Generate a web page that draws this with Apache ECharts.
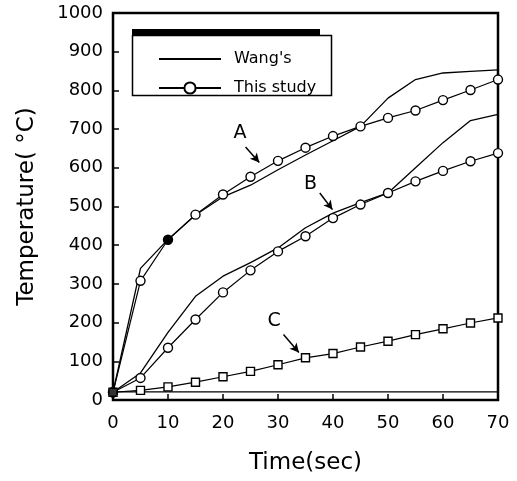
<!DOCTYPE html>
<html>
<head>
<meta charset="utf-8">
<script src="https://cdn.jsdelivr.net/npm/echarts@6/dist/echarts.min.js"></script>
<style>
  html, body { margin: 0; padding: 0; background: #fff; }
  #chart { width: 517px; height: 481px; }
</style>
</head>
<body>
<div id="chart"></div>
<script>
// time axis (sec)
const times = [0, 5, 10, 15, 20, 25, 30, 35, 40, 45, 50, 55, 60, 65, 70];

// Wang's results (plain lines)
const wangA = [20, 340, 415, 478, 525, 555, 595, 633, 670, 707, 780, 828, 845, 849, 853];
const wangB = [20, 70, 175, 268, 320, 355, 393, 445, 483, 510, 535, 600, 665, 722, 738];
const wangC = [21, 21, 21, 21, 21, 21, 21, 21, 21, 21, 21, 21, 21, 21, 21];

// this study (marked lines)
const studyA = [20, 308, 414, 479, 531, 577, 618, 652, 682, 707, 729, 748, 775, 801, 828];
const studyB = [20, 57, 135, 208, 278, 335, 384, 423, 470, 505, 535, 565, 592, 617, 638];
const studyC = [20, 25, 34, 46, 60, 74, 91, 109, 120, 137, 152, 169, 184, 199, 212];

const startPoint = [0, 20];

// curve labels: [text, labelX, labelY, arrowFromX, arrowFromY, arrowToX, arrowToY]
const notes = [
  ['A', 23.1, 690, 24.1, 654, 26.6, 614],
  ['B', 35.9, 557, 37.6, 535, 39.9, 492],
  ['C', 29.3, 203, 31.0, 169, 33.8, 123],
];

const FONT = 'DejaVu Sans';
const pairs = (arr) => times.map((t, i) => [t, arr[i]]);

const chart = echarts.init(document.getElementById('chart'));

const wangSeries = [wangA, wangB, wangC].map((arr) => ({
  name: "Wang's",
  type: 'line',
  symbol: 'none',
  lineStyle: { color: '#000', width: 1.3 },
  itemStyle: { color: '#000' },
  data: pairs(arr),
  z: 3,
}));

const studySeries = [studyA, studyB, studyC].map((arr, k) => ({
  name: 'This study',
  type: 'line',
  symbol: k === 2 ? 'rect' : 'circle',
  symbolSize: k === 2 ? 8 : 9,
  lineStyle: { color: '#000', width: 1.2 },
  itemStyle: { color: '#fff', borderColor: '#000', borderWidth: 1.4 },
  data: pairs(arr).map((p, i) =>
    k === 0 && i === 2 ? { value: p, itemStyle: { color: '#000' } } : p
  ),
  z: 4,
}));

chart.setOption({
  animation: false,
  backgroundColor: '#fff',
  grid: {
    left: 113, top: 13, width: 385, height: 387,
    show: true, borderColor: '#000', borderWidth: 2.5,
  },
  legend: {
    data: [
      { name: "Wang's", itemStyle: { opacity: 0 } },
      { name: 'This study' },
    ],
    orient: 'vertical',
    left: 153, top: 46,
    itemWidth: 62, itemHeight: 14, itemGap: 13,
    textStyle: { fontFamily: FONT, fontSize: 16, color: '#000', padding: [0, 0, 0, 8] },
  },
  xAxis: {
    type: 'value',
    min: 0, max: 70, interval: 10,
    name: 'Time(sec)',
    nameLocation: 'middle',
    nameGap: 52,
    nameTextStyle: { fontFamily: FONT, fontSize: 23, color: '#000' },
    axisLine: { show: false },
    axisTick: { inside: true, length: 6, lineStyle: { color: '#000', width: 1.5 } },
    axisLabel: { fontFamily: FONT, fontSize: 18, color: '#000', margin: 14 },
    splitLine: { show: false },
  },
  yAxis: {
    type: 'value',
    min: 0, max: 1000, interval: 100,
    name: 'Temperature( \u00B0C)',
    nameLocation: 'middle',
    nameGap: 74,
    nameTextStyle: { fontFamily: FONT, fontSize: 23, color: '#000' },
    axisLine: { show: false },
    axisTick: { inside: true, length: 6, lineStyle: { color: '#000', width: 1.5 } },
    axisLabel: {
      fontFamily: FONT, fontSize: 18, color: '#000', margin: 10,
      formatter: (v) => String(v),
    },
    splitLine: { show: false },
  },
  graphic: [
    { type: 'rect', shape: { x: 132, y: 29, width: 188, height: 7 }, style: { fill: '#000' }, z: 10 },
    { type: 'rect', shape: { x: 132.5, y: 35.5, width: 199, height: 60 },
      style: { fill: 'none', stroke: '#000', lineWidth: 1.5 }, z: 10 },
  ],
  series: [
    ...wangSeries,
    ...studySeries,
    {
      type: 'scatter',
      symbolSize: 9,
      itemStyle: { color: '#000' },
      data: [startPoint],
      z: 5,
    },
    {
      type: 'scatter',
      symbol: 'circle',
      symbolSize: 20,
      silent: true,
      itemStyle: { color: 'rgba(255,255,255,0)' },
      data: notes.map((n) => ({ value: [n[1], n[2]], name: n[0] })),
      label: {
        show: true, position: 'inside', formatter: '{b}',
        fontFamily: FONT, fontSize: 19, color: '#000', opacity: 1,
        textBorderWidth: 0,
      },
      markLine: {
        silent: true,
        symbol: ['none', 'arrow'],
        symbolSize: [7, 9],
        label: { show: false },
        lineStyle: { color: '#000', width: 1.5, type: 'solid' },
        data: notes.map((n) => [{ coord: [n[3], n[4]] }, { coord: [n[5], n[6]] }]),
      },
      z: 6,
    },
  ],
});

window.addEventListener('resize', () => chart.resize());
</script>
</body>
</html>
